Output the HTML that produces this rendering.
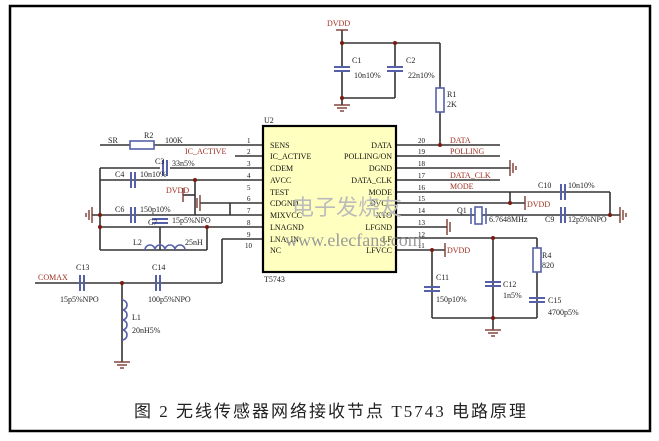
<!DOCTYPE html><html><head><meta charset="utf-8"><style>body{margin:0;background:#fff}svg{display:block}text{font-family:"Liberation Serif",serif}</style></head><body>
<svg width="659" height="441" viewBox="0 0 659 441" xmlns="http://www.w3.org/2000/svg">
<rect x="10" y="6" width="640" height="425" fill="#fff" stroke="#000" stroke-width="2.5"/>
<g stroke="#333" stroke-width="1.6" fill="none">
<line x1="342" y1="30" x2="342" y2="105"/><line x1="342" y1="43" x2="440" y2="43"/><line x1="395" y1="43" x2="395" y2="98"/><line x1="342" y1="98" x2="395" y2="98"/>
<line x1="440" y1="43" x2="440" y2="145"/>
<line x1="100" y1="145" x2="263" y2="145"/><line x1="235" y1="156" x2="263" y2="156"/>
<line x1="170" y1="168" x2="263" y2="168"/><line x1="100" y1="168" x2="160" y2="168"/>
<line x1="100" y1="180" x2="263" y2="180"/><line x1="195" y1="195" x2="183" y2="195"/><line x1="195" y1="180" x2="195" y2="215"/>
<line x1="200" y1="203" x2="263" y2="203"/><line x1="230" y1="203" x2="230" y2="215"/>
<line x1="92" y1="215" x2="263" y2="215"/><line x1="100" y1="227" x2="263" y2="227"/>
<line x1="100" y1="168" x2="100" y2="250"/><line x1="100" y1="250" x2="207" y2="250"/><line x1="207" y1="227" x2="207" y2="250"/>
<line x1="160" y1="227" x2="160" y2="250"/>
<line x1="222" y1="239" x2="263" y2="239"/><line x1="222" y1="239" x2="222" y2="283"/>
<line x1="35" y1="283" x2="222" y2="283"/><line x1="122" y1="283" x2="122" y2="362"/>
<line x1="397" y1="145" x2="500" y2="145"/><line x1="397" y1="156" x2="500" y2="156"/><line x1="397" y1="168" x2="510" y2="168"/>
<line x1="397" y1="180" x2="500" y2="180"/><line x1="397" y1="192" x2="610" y2="192"/><line x1="610" y1="192" x2="610" y2="215"/>
<line x1="397" y1="203" x2="525" y2="203"/><line x1="510" y1="192" x2="510" y2="203"/>
<line x1="397" y1="215" x2="620" y2="215"/><line x1="397" y1="227" x2="447" y2="227"/>
<line x1="397" y1="238" x2="537" y2="238"/><line x1="397" y1="250" x2="445" y2="250"/>
<line x1="432" y1="250" x2="432" y2="318"/><line x1="493" y1="238" x2="493" y2="330"/><line x1="537" y1="238" x2="537" y2="318"/>
<line x1="432" y1="318" x2="537" y2="318"/>
</g>
<rect x="263" y="126" width="133" height="146" fill="#ffffc0" stroke="#000" stroke-width="2.2"/>
<g stroke="#5560a8" stroke-width="2" fill="#fff">
<rect x="334" y="67" width="16" height="4" stroke="none"/><line x1="334" y1="67" x2="350" y2="67"/><line x1="334" y1="71" x2="350" y2="71"/>
<rect x="387" y="67" width="16" height="4" stroke="none"/><line x1="387" y1="67" x2="403" y2="67"/><line x1="387" y1="71" x2="403" y2="71"/>
<line x1="163" y1="160" x2="163" y2="176"/><line x1="167" y1="160" x2="167" y2="176"/>
<line x1="131" y1="172" x2="131" y2="188"/><line x1="135" y1="172" x2="135" y2="188"/>
<line x1="131" y1="207" x2="131" y2="223"/><line x1="135" y1="207" x2="135" y2="223"/>
<line x1="152" y1="219" x2="168" y2="219"/><line x1="152" y1="223" x2="168" y2="223"/>
<line x1="80" y1="275" x2="80" y2="291"/><line x1="84" y1="275" x2="84" y2="291"/>
<line x1="156" y1="275" x2="156" y2="291"/><line x1="160" y1="275" x2="160" y2="291"/>
<line x1="561" y1="184" x2="561" y2="200"/><line x1="565" y1="184" x2="565" y2="200"/>
<line x1="561" y1="207" x2="561" y2="223"/><line x1="565" y1="207" x2="565" y2="223"/>
<line x1="424" y1="287" x2="440" y2="287"/><line x1="424" y1="291" x2="440" y2="291"/>
<line x1="485" y1="282" x2="501" y2="282"/><line x1="485" y1="286" x2="501" y2="286"/>
<line x1="529" y1="298" x2="545" y2="298"/><line x1="529" y1="302" x2="545" y2="302"/>
</g>
<g stroke="#5560a8" stroke-width="1.6" fill="#fff">
<rect x="436" y="88" width="8" height="24"/><rect x="533" y="248" width="8" height="24"/>
<rect x="130" y="141" width="24" height="8"/><rect x="475" y="207" width="7" height="17"/>
<line x1="471" y1="208" x2="471" y2="224"/><line x1="486" y1="208" x2="486" y2="224"/>
<path d="M145 250 a5 5 0 0 1 10 0 a5 5 0 0 1 10 0 a5 5 0 0 1 10 0 a5 5 0 0 1 10 0" fill="none"/>
<path d="M122 300 a5 5 0 0 1 0 10 a5 5 0 0 1 0 10 a5 5 0 0 1 0 10 a5 5 0 0 1 0 10" fill="none"/>
</g>
<g stroke="#7a3a30" stroke-width="1.4">
<line x1="334" y1="105" x2="350" y2="105"/><line x1="337" y1="108" x2="347" y2="108"/><line x1="340" y1="111" x2="344" y2="111"/>
<line x1="485" y1="330" x2="501" y2="330"/><line x1="488" y1="333" x2="498" y2="333"/><line x1="491" y1="336" x2="495" y2="336"/>
<line x1="114" y1="362" x2="130" y2="362"/><line x1="117" y1="365" x2="127" y2="365"/><line x1="120" y1="368" x2="124" y2="368"/>
<line x1="92" y1="207" x2="92" y2="223"/><line x1="89" y1="210" x2="89" y2="220"/><line x1="86" y1="213" x2="86" y2="217"/>
<line x1="200" y1="195" x2="200" y2="211"/><line x1="197" y1="198" x2="197" y2="208"/>
<line x1="510" y1="160" x2="510" y2="176"/><line x1="513" y1="163" x2="513" y2="173"/><line x1="516" y1="166" x2="516" y2="170"/>
<line x1="620" y1="207" x2="620" y2="223"/><line x1="623" y1="210" x2="623" y2="220"/><line x1="626" y1="213" x2="626" y2="217"/>
<line x1="447" y1="219" x2="447" y2="235"/><line x1="450" y1="222" x2="450" y2="232"/>
<line x1="183" y1="188" x2="183" y2="202"/><line x1="525" y1="196" x2="525" y2="210"/><line x1="445" y1="243" x2="445" y2="257"/>
<line x1="336" y1="30" x2="348" y2="30"/>
</g>
<g fill="#7a1a10"><circle cx="342" cy="43" r="2"/><circle cx="395" cy="43" r="2"/><circle cx="342" cy="98" r="2"/><circle cx="440" cy="145" r="2"/><circle cx="122" cy="283" r="2"/><circle cx="510" cy="203" r="2"/><circle cx="610" cy="215" r="2"/><circle cx="493" cy="238" r="2"/><circle cx="432" cy="250" r="2"/><circle cx="493" cy="318" r="2"/><circle cx="100" cy="215" r="2"/><circle cx="100" cy="227" r="2"/><circle cx="195" cy="180" r="2"/><circle cx="207" cy="227" r="2"/></g>
<g font-size="8" fill="#222">
<text x="327" y="26" fill="#a03020">DVDD</text><text x="352" y="63">C1</text><text x="354" y="78">10n10%</text><text x="406" y="63">C2</text><text x="408" y="78">22n10%</text>
<text x="447" y="97">R1</text><text x="447" y="107">2K</text><text x="264" y="123">U2</text><text x="264" y="282">T5743</text>
<text x="108" y="143">SR</text><text x="144" y="138">R2</text><text x="165" y="143">100K</text>
<text x="185" y="154" fill="#a03020">IC_ACTIVE</text><text x="155" y="164">C3</text><text x="172" y="166">33n5%</text>
<text x="115" y="177">C4</text><text x="140" y="177">10n10%</text><text x="166" y="193" fill="#a03020">DVDD</text>
<text x="115" y="212">C6</text><text x="140" y="212">150p10%</text><text x="148" y="225">C7</text><text x="172" y="223">15p5%NPO</text>
<text x="133" y="245">L2</text><text x="185" y="245">25nH</text>
<text x="38" y="280" fill="#a03020">COMAX</text><text x="76" y="270">C13</text><text x="60" y="302">15p5%NPO</text>
<text x="152" y="270">C14</text><text x="148" y="302">100p5%NPO</text><text x="132" y="320">L1</text><text x="132" y="333">20nH5%</text>
<text x="450" y="143" fill="#a03020">DATA</text><text x="450" y="154" fill="#a03020">POLLING</text><text x="450" y="178" fill="#a03020">DATA_CLK</text><text x="450" y="189" fill="#a03020">MODE</text>
<text x="527" y="207" fill="#a03020">DVDD</text><text x="457" y="213">Q1</text><text x="489" y="222">6.7648MHz</text><text x="545" y="222">C9</text><text x="568" y="222">12p5%NPO</text>
<text x="538" y="188">C10</text><text x="568" y="188">10n10%</text><text x="447" y="253" fill="#a03020">DVDD</text>
<text x="436" y="280">C11</text><text x="436" y="302">150p10%</text><text x="503" y="287">C12</text><text x="503" y="298">1n5%</text>
<text x="542" y="258">R4</text><text x="542" y="268">820</text><text x="548" y="303">C15</text><text x="548" y="315">4700p5%</text>
</g>
<g font-size="8" fill="#111">
<text x="270" y="148">SENS</text><text x="270" y="159">IC_ACTIVE</text><text x="270" y="171">CDEM</text><text x="270" y="183">AVCC</text><text x="270" y="195">TEST</text><text x="270" y="206">CDGND</text><text x="270" y="218">MIXVCC</text><text x="270" y="230">LNAGND</text><text x="270" y="242">LNA_IN</text><text x="270" y="253">NC</text>
<g text-anchor="end"><text x="392" y="148">DATA</text><text x="392" y="159">POLLING/ON</text><text x="392" y="171">DGND</text><text x="392" y="183">DATA_CLK</text><text x="392" y="195">MODE</text><text x="392" y="206">DVCC</text><text x="392" y="218">XTO</text><text x="392" y="230">LFGND</text><text x="392" y="242">LF</text><text x="392" y="253">LFVCC</text></g>
<g font-size="7"><text x="247" y="143">1</text><text x="247" y="154">2</text><text x="247" y="166">3</text><text x="247" y="178">4</text><text x="247" y="190">5</text><text x="247" y="201">6</text><text x="247" y="213">7</text><text x="247" y="225">8</text><text x="247" y="237">9</text><text x="245" y="248">10</text>
<text x="418" y="143">20</text><text x="418" y="154">19</text><text x="418" y="166">18</text><text x="418" y="178">17</text><text x="418" y="190">16</text><text x="418" y="201">15</text><text x="418" y="213">14</text><text x="418" y="225">13</text><text x="418" y="237">12</text><text x="418" y="248">11</text></g>
</g>
<text x="292" y="215" font-size="22" fill="#bbb" font-family="'Noto Sans CJK SC',sans-serif">电子发烧友</text>
<text x="285" y="246" font-size="18" fill="#999" font-family="'Liberation Sans',sans-serif">www.elecfans.com</text>
<text x="134" y="417" font-size="17" fill="#222" textLength="392" lengthAdjust="spacing" font-family="'Liberation Serif','Noto Serif CJK SC',serif">图 2  无线传感器网络接收节点 T5743 电路原理</text>
</svg></body></html>
